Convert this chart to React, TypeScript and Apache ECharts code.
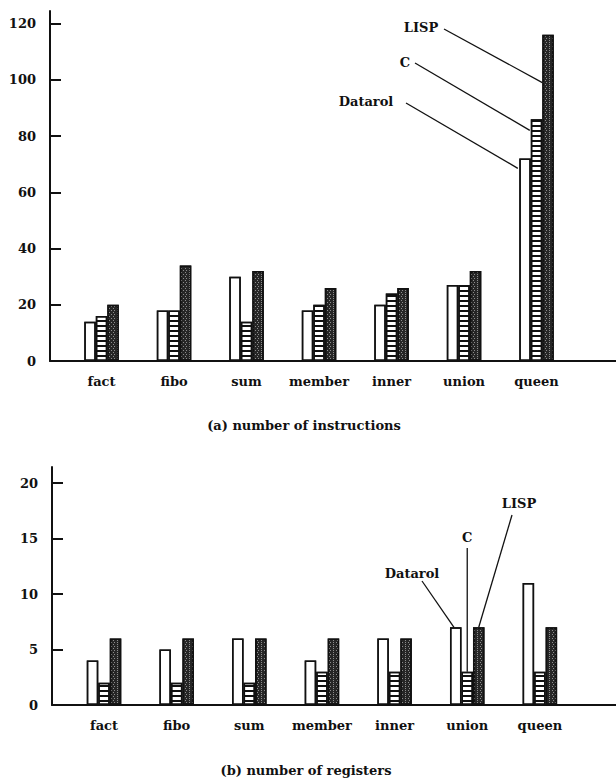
import React, { useEffect, useRef } from "react";
import * as echarts from "echarts";

const categories = ["fact", "fibo", "sum", "member", "inner", "union", "queen"];
const instrDatarol = [14, 18, 30, 18, 20, 27, 72];
const instrC = [16, 18, 14, 20, 24, 27, 86];
const instrLISP = [20, 34, 32, 26, 26, 32, 116];
const regDatarol = [4, 5, 6, 4, 6, 7, 11];
const regC = [2, 2, 2, 3, 3, 3, 3];
const regLISP = [6, 6, 6, 6, 6, 7, 7];
const instrTicks = [0, 20, 40, 60, 80, 100, 120];
const regTicks = [0, 5, 10, 15, 20];
const seriesNames = ["Datarol", "C", "LISP"];
const titles = ["(a) number of instructions", "(b) number of registers"];

const FONT = "DejaVu Serif";
const INK = "#111";
const BAR_W = 11.5;

const textStyle = { fontFamily: FONT, fontWeight: "bold" as const, fontSize: 13, color: INK };

const styleDatarol = {
  color: "#fff",
  borderColor: INK,
  borderWidth: 1.5,
  decal: { symbol: "none" },
};
const styleC = {
  color: "#fff",
  borderColor: INK,
  borderWidth: 1.5,
  decal: {
    symbol: "rect",
    symbolSize: 1,
    color: "#111",
    dashArrayX: [1, 0],
    dashArrayY: [2, 3],
    rotation: 0,
  },
};
const styleLISP = {
  color: "#262626",
  borderColor: INK,
  borderWidth: 1.5,
  decal: {
    symbol: "rect",
    symbolSize: 1,
    color: "#8c8c8c",
    dashArrayX: [[1, 2], [0, 1, 1, 2]],
    dashArrayY: [1, 1],
    rotation: 0,
  },
};

export default function App() {
  const ref = useRef<HTMLDivElement>(null);

  useEffect(() => {
    if (!ref.current) return;
    const chart = echarts.init(ref.current, null, { renderer: "svg" });

    const instrMax = instrTicks[instrTicks.length - 1];
    const instrStep = instrTicks[1] - instrTicks[0];
    const regMax = regTicks[regTicks.length - 1];
    const regStep = regTicks[1] - regTicks[0];

    // plotting grids (bars) and frame grids (long axis lines)
    const grids = [
      { left: 65.3, width: 507.5, top: 23.5, bottom: 778 - 361 },
      { left: 50, right: 0, top: 11, bottom: 778 - 361 },
      { left: 67.7, width: 508.5, top: 483, bottom: 778 - 705 },
      { left: 52, right: 0, top: 467, bottom: 778 - 705 },
    ];

    const catAxis = (gridIndex: number) => ({
      type: "category",
      gridIndex,
      data: categories,
      axisLine: { show: false },
      axisTick: { show: false },
      splitLine: { show: false },
      axisLabel: { ...textStyle, margin: 14, interval: 0 },
    });
    const frameX = (gridIndex: number) => ({
      type: "value",
      gridIndex,
      min: 0,
      max: 1,
      axisLine: { show: true, lineStyle: { color: INK, width: 2 } },
      axisTick: { show: false },
      axisLabel: { show: false },
      splitLine: { show: false },
    });
    const frameY = (gridIndex: number) => ({
      type: "value",
      gridIndex,
      min: 0,
      max: 1,
      axisLine: { show: true, lineStyle: { color: INK, width: 2 } },
      axisTick: { show: false },
      axisLabel: { show: false },
      splitLine: { show: false },
    });
    const valAxis = (gridIndex: number, max: number, interval: number, offset: number) => ({
      type: "value",
      gridIndex,
      min: 0,
      max,
      interval,
      offset,
      axisLine: { show: false },
      axisTick: { show: true, inside: true, length: 11, lineStyle: { color: INK, width: 2 } },
      axisLabel: { ...textStyle, margin: 14 },
      splitLine: { show: false },
    });

    const bar = (name: string, data: number[], axisIndex: number, itemStyle: any) => ({
      type: "bar",
      name,
      data,
      xAxisIndex: axisIndex,
      yAxisIndex: axisIndex,
      barWidth: BAR_W,
      barGap: "0%",
      itemStyle,
      silent: true,
    });

    chart.setOption({
      animation: false,
      backgroundColor: "#fff",
      aria: { enabled: true, decal: { show: true } },
      grid: grids,
      xAxis: [catAxis(0), frameX(1), catAxis(2), frameX(3)],
      yAxis: [
        valAxis(0, instrMax, instrStep, 15.3),
        frameY(1),
        valAxis(2, regMax, regStep, 15.7),
        frameY(3),
      ],
      series: [
        bar(seriesNames[0], instrDatarol, 0, styleDatarol),
        bar(seriesNames[1], instrC, 0, styleC),
        bar(seriesNames[2], instrLISP, 0, styleLISP),
        bar(seriesNames[0], regDatarol, 2, styleDatarol),
        bar(seriesNames[1], regC, 2, styleC),
        bar(seriesNames[2], regLISP, 2, styleLISP),
      ],
    });

    // annotation anchors derived from the axes
    const px = (axis: number, cat: string, v: number) =>
      chart.convertToPixel({ xAxisIndex: axis, yAxisIndex: axis }, [cat, v]) as number[];
    const q = categories[6];
    const u = categories[5];
    const qL = px(0, q, instrLISP[6] - 17);
    const qC = px(0, q, instrC[6] - 4);
    const qD = px(0, q, instrDatarol[6] - 3.5);
    const uD = px(2, u, regDatarol[5]);
    const uC = px(2, u, regC[5]);
    const uL = px(2, u, regLISP[5]);

    const lineStyle = { stroke: INK, lineWidth: 1.3 };
    const label = (text: string, x: number, y: number, align = "center") => ({
      type: "text",
      x,
      y,
      style: { text, ...textStyle, fill: INK, align, verticalAlign: "middle" },
      silent: true,
    });
    const seg = (x1: number, y1: number, x2: number, y2: number) => ({
      type: "line",
      shape: { x1, y1, x2, y2 },
      style: lineStyle,
      silent: true,
    });

    chart.setOption({
      graphic: [
        label(seriesNames[2], 421, 27),
        seg(444, 29, qL[0] + BAR_W * 0.5, qL[1]),
        label(seriesNames[1], 405, 62),
        seg(415, 63, qC[0] - BAR_W * 0.5 - 1, qC[1]),
        label(seriesNames[0], 366, 101),
        seg(406, 103, qD[0] - BAR_W * 1.5 - 1.5, qD[1]),
        label(seriesNames[2], 519, 503),
        seg(512, 515, uL[0] + BAR_W, uL[1]),
        label(seriesNames[1], uC[0], 537),
        seg(uC[0], 548, uC[0], uC[1]),
        label(seriesNames[0], 412, 573),
        seg(422, 581, uD[0] - BAR_W * 1.5 + 4, uD[1]),
        label(titles[0], 304, 425),
        label(titles[1], 306, 770),
      ],
    });

    return () => chart.dispose();
  }, []);

  return (
    <div
      ref={ref}
      style={{ position: "fixed", left: 0, top: 0, width: 616, height: 778, background: "#fff" }}
    />
  );
}
